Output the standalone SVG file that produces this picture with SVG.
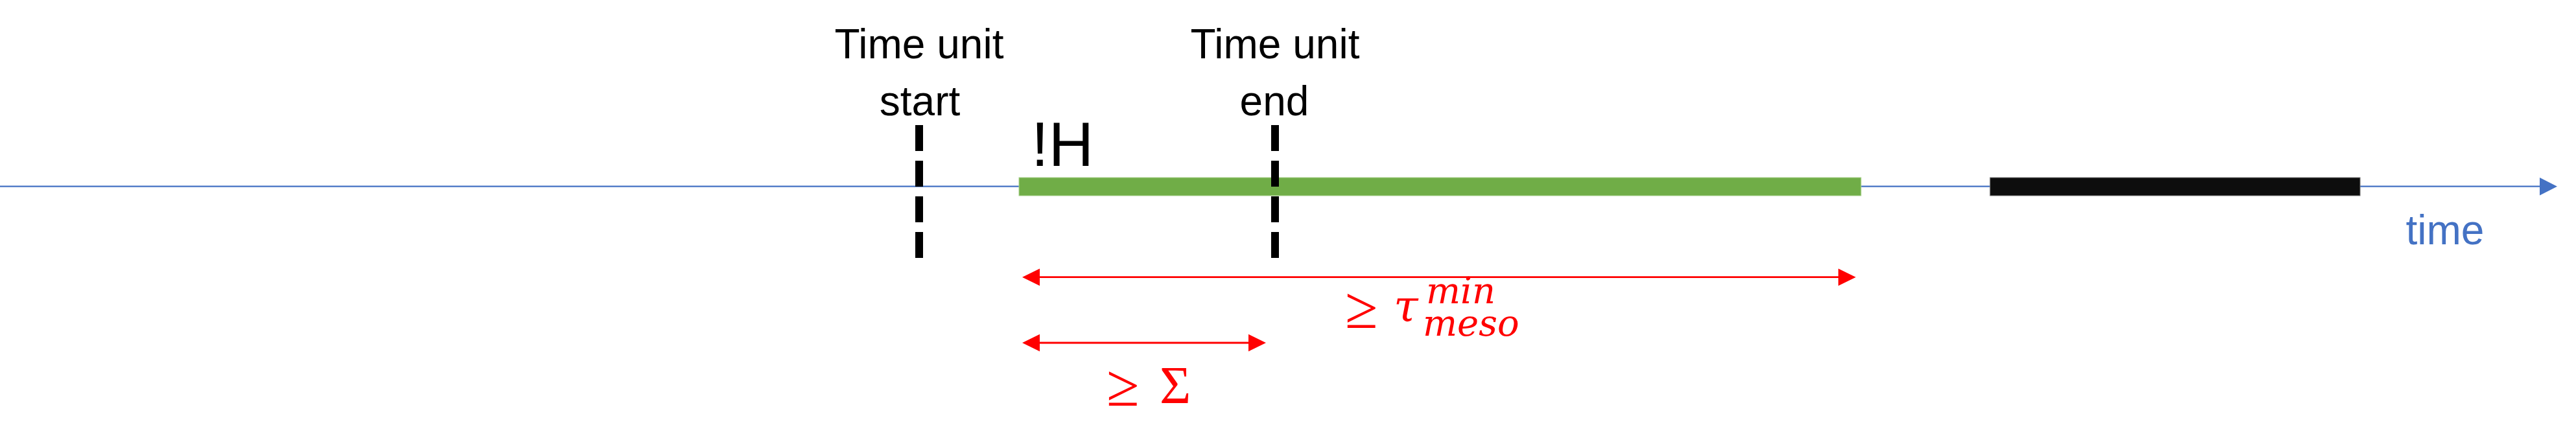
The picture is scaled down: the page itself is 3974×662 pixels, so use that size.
<svg xmlns="http://www.w3.org/2000/svg" width="3974" height="662" viewBox="0 0 3974 662">
  <style>
    .lbl { font-family: "Liberation Sans", Arial, sans-serif; font-size: 64px; fill: #000000; text-anchor: middle; }
    .axis { stroke: #4472C4; stroke-width: 2.2; fill: none; }
    .dash { stroke: #000000; stroke-width: 12; stroke-dasharray: 40 15; fill: none; }
    .red { stroke: #FF0000; stroke-width: 2.8; fill: none; }
    .redhead { fill: #FF0000; }
    .math { font-family: "Liberation Serif", "Times New Roman", serif; fill: #FF0000; }
    .mathi { font-family: "DejaVu Serif", "Liberation Serif", serif; font-style: italic; fill: #FF0000; }
  </style>
  <rect width="3974" height="662" fill="#FFFFFF"/>

  <g id="connectors">
    <line class="axis" x1="0" y1="287.7" x2="3920" y2="287.7"/>
    <polygon fill="#4472C4" points="3918,274 3945,287.7 3918,301.4"/>
    <line class="red" x1="1600" y1="427.7" x2="2840" y2="427.7"/>
    <polygon class="redhead" points="1604,414.4 1577,427.7 1604,441"/>
    <polygon class="redhead" points="2836,414.4 2863,427.7 2836,441"/>
    <line class="red" x1="1600" y1="529" x2="1930" y2="529"/>
    <polygon class="redhead" points="1604,515.7 1577,529 1604,542.3"/>
    <polygon class="redhead" points="1926,515.7 1953,529 1926,542.3"/>
  </g>

  <g id="green-bar">
    <rect x="1572" y="274" width="1299" height="28" fill="#70AD47" stroke="#A9D18E" stroke-width="1"/>
    <text x="1591" y="256" font-family="Liberation Sans, Arial, sans-serif" font-size="96" fill="#000000">!H</text>
  </g>

  <g id="black-bar">
    <rect x="3070" y="274" width="571" height="28" fill="#0D0D0D" stroke="#7F7F7F" stroke-width="1"/>
  </g>

  <g id="time-unit-start">
    <line class="dash" x1="1418" y1="193" x2="1418" y2="399"/>
    <text class="lbl" x="1418" y="90">Time unit</text>
    <text class="lbl" x="1419" y="178">start</text>
  </g>

  <g id="time-unit-end">
    <line class="dash" x1="1967" y1="193" x2="1967" y2="399"/>
    <text class="lbl" x="1967" y="90">Time unit</text>
    <text class="lbl" x="1966" y="178">end</text>
  </g>

  <g id="time-label">
    <text class="lbl" x="3772" y="377" style="fill:#4472C4">time</text>
  </g>

  <g id="tau-label">
    <text class="math" x="2075" y="506" font-size="92">≥</text>
    <text class="mathi" x="2150" y="496" font-size="68">τ</text>
    <text class="mathi" x="2200" y="468" font-size="56">min</text>
    <text class="mathi" x="2195" y="518" font-size="56">meso</text>
  </g>

  <g id="sigma-label">
    <text class="math" x="1707" y="626" font-size="92">≥</text>
    <text class="math" x="1789" y="622" font-size="83">Σ</text>
  </g>
</svg>
